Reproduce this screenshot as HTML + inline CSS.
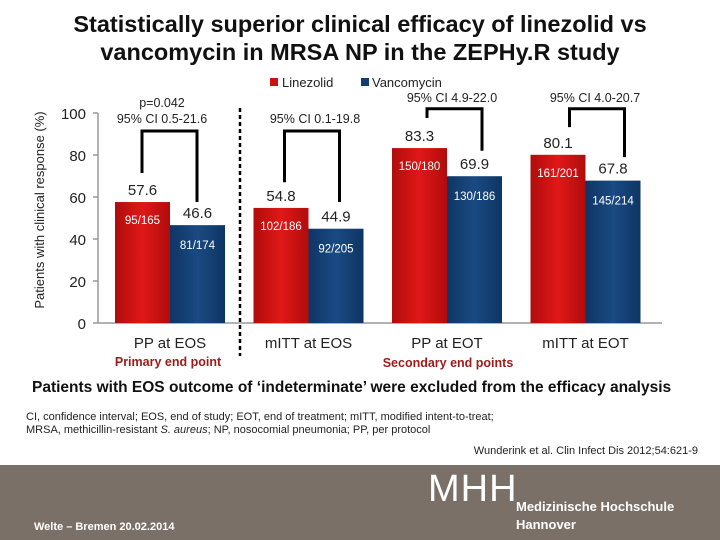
<!DOCTYPE html>
<html><head><meta charset="utf-8"><style>
body{margin:0;width:720px;height:540px;overflow:hidden;background:#fff;font-family:"Liberation Sans",sans-serif;position:relative}
.t{position:absolute;white-space:nowrap}
</style></head><body>
<div class="t" style="left:0;width:720px;top:10px;text-align:center;font-size:23.5px;font-weight:bold;line-height:28px;color:#111">Statistically superior clinical efficacy of linezolid vs<br>vancomycin in MRSA NP in the ZEPHy.R study</div>
<svg id="c" width="720" height="540" style="position:absolute;left:0;top:0">
<defs>
<linearGradient id="gr" x1="0" x2="1"><stop offset="0" stop-color="#b00c0c"/><stop offset=".5" stop-color="#e01818"/><stop offset="1" stop-color="#b00c0c"/></linearGradient>
<linearGradient id="gb" x1="0" x2="1"><stop offset="0" stop-color="#0e3564"/><stop offset=".5" stop-color="#1a4a82"/><stop offset="1" stop-color="#0e3564"/></linearGradient>
</defs>
<g id="g"></g>
</svg>
<div class="t" style="left:32px;top:379px;font-size:15.5px;font-weight:bold;color:#111">Patients with EOS outcome of ‘indeterminate’ were excluded from the efficacy analysis</div>
<div class="t" style="left:26px;top:411px;font-size:11px;line-height:13px;color:#222">CI, confidence interval; EOS, end of study; EOT, end of treatment; mITT, modified intent-to-treat;<br>MRSA, methicillin-resistant <i>S. aureus</i>; NP, nosocomial pneumonia; PP, per protocol</div>
<div class="t" style="right:22px;top:445px;font-size:11px;color:#222">Wunderink et al. Clin Infect Dis 2012;54:621-9</div>
<div style="position:absolute;left:0;top:465px;width:720px;height:75px;background:#7b7068"></div>
<div class="t" style="left:34px;top:521px;font-size:11px;font-weight:bold;color:#fff">Welte – Bremen 20.02.2014</div>
<div class="t" style="left:428px;top:468px;font-size:38px;color:#fff;letter-spacing:1px">MHH</div>
<div class="t" style="left:516px;top:498px;font-size:13px;font-weight:bold;line-height:18px;color:#fff">Medizinische Hochschule<br>Hannover</div>
<script>
const categories=["PP at EOS","mITT at EOS","PP at EOT","mITT at EOT"];
const linezolid=[57.6,54.8,83.3,80.1];
const vancomycin=[46.6,44.9,69.9,67.8];
const linezolidN=["95/165","102/186","150/180","161/201"];
const vancomycinN=["81/174","92/205","130/186","145/214"];
const ciLabels=[["p=0.042","95% CI 0.5-21.6"],["95% CI 0.1-19.8"],["95% CI 4.9-22.0"],["95% CI 4.0-20.7"]];
const bracketTop=[91.4,91.4,102,102];
const bracketLeftEnd=[71.4,67,97.6,93.3];
const bracketRightEnd=[57.6,57.6,82,79];
const yTicks=[0,20,40,60,80,100];
const NS="http://www.w3.org/2000/svg",G=document.getElementById('g');
const y=v=>323-v*2.1, cx=i=>170+i*138.5, bw=55;
function mk(tag,at,txt){const e=document.createElementNS(NS,tag);for(const k in at)e.setAttribute(k,at[k]);if(txt!=null)e.textContent=txt;G.appendChild(e);return e;}
let e=mk('line',{x1:98,x2:662,y1:323,y2:323,stroke:'#999','stroke-width':1.5});

e=mk('line',{x1:98,x2:98,y1:y(100),y2:323,stroke:'#999','stroke-width':1.5});

yTicks.forEach(t=>{const l=mk('text',{x:86,y:y(t)+6,'text-anchor':'end','font-size':15,fill:'#222'},t);

const k=mk('line',{x1:93,x2:98,y1:y(t),y2:y(t),stroke:'#999','stroke-width':1.5});
});
e=mk('text',{transform:'translate(44,210) rotate(-90)','text-anchor':'middle','font-size':13,fill:'#222'},'Patients with clinical response (%)');

e=mk('line',{x1:240,x2:240,y1:108,y2:356,stroke:'#000','stroke-width':2.5,'stroke-dasharray':'4,3'});

const ciX=[162,315,452,595],ciY=[118,118,97,97];
categories.forEach((c,i)=>{
 const x=cx(i);
 let r=mk('rect',{x:x-bw,y:y(linezolid[i]),width:bw,height:linezolid[i]*2.1,fill:'url(#gr)'});
 
 r=mk('rect',{x:x,y:y(vancomycin[i]),width:bw,height:vancomycin[i]*2.1,fill:'url(#gb)'});
 
 let t=mk('text',{x:x-bw/2,y:y(linezolid[i])-7,'text-anchor':'middle','font-size':15,fill:'#222'},linezolid[i].toFixed(1));
 
 t=mk('text',{x:x+bw/2,y:y(vancomycin[i])-7,'text-anchor':'middle','font-size':15,fill:'#222'},vancomycin[i].toFixed(1));
 
 t=mk('text',{x:x-bw/2,y:y(linezolid[i])+22,'text-anchor':'middle','font-size':11.5,fill:'#fff'},linezolidN[i]);
 
 t=mk('text',{x:x+bw/2,y:y(vancomycin[i])+24,'text-anchor':'middle','font-size':11.5,fill:'#fff'},vancomycinN[i]);
 
 t=mk('text',{x:x,y:348,'text-anchor':'middle','font-size':15,fill:'#222'},c);
 
 const xl=x-28+i*4,xr=x+27+i*4;
 const p=mk('path',{d:`M${xl},${y(bracketLeftEnd[i])}V${y(bracketTop[i])}H${xr}V${y(bracketRightEnd[i])}`,fill:'none',stroke:'#000','stroke-width':3});
 
 const L=ciLabels[i];
 L.forEach((s,j)=>{const tt=mk('text',{x:ciX[i],y:ciY[i]+5-(L.length-1-j)*16,'text-anchor':'middle','font-size':12.5,fill:'#222'},s);
 });
});
e=mk('rect',{x:270,y:78,width:8,height:8,fill:'#d01010'});
e=mk('text',{x:282,y:87,'font-size':13,fill:'#222'},'Linezolid');
e=mk('rect',{x:361,y:78,width:8,height:8,fill:'#123e70'});
e=mk('text',{x:372,y:87,'font-size':13,fill:'#222'},'Vancomycin');
e=mk('text',{x:168,y:366,'text-anchor':'middle','font-size':12.5,'font-weight':'bold',fill:'#9b1b1b'},'Primary end point');
e=mk('text',{x:448,y:367,'text-anchor':'middle','font-size':12.5,'font-weight':'bold',fill:'#9b1b1b'},'Secondary end points');
</script>
</body></html>
